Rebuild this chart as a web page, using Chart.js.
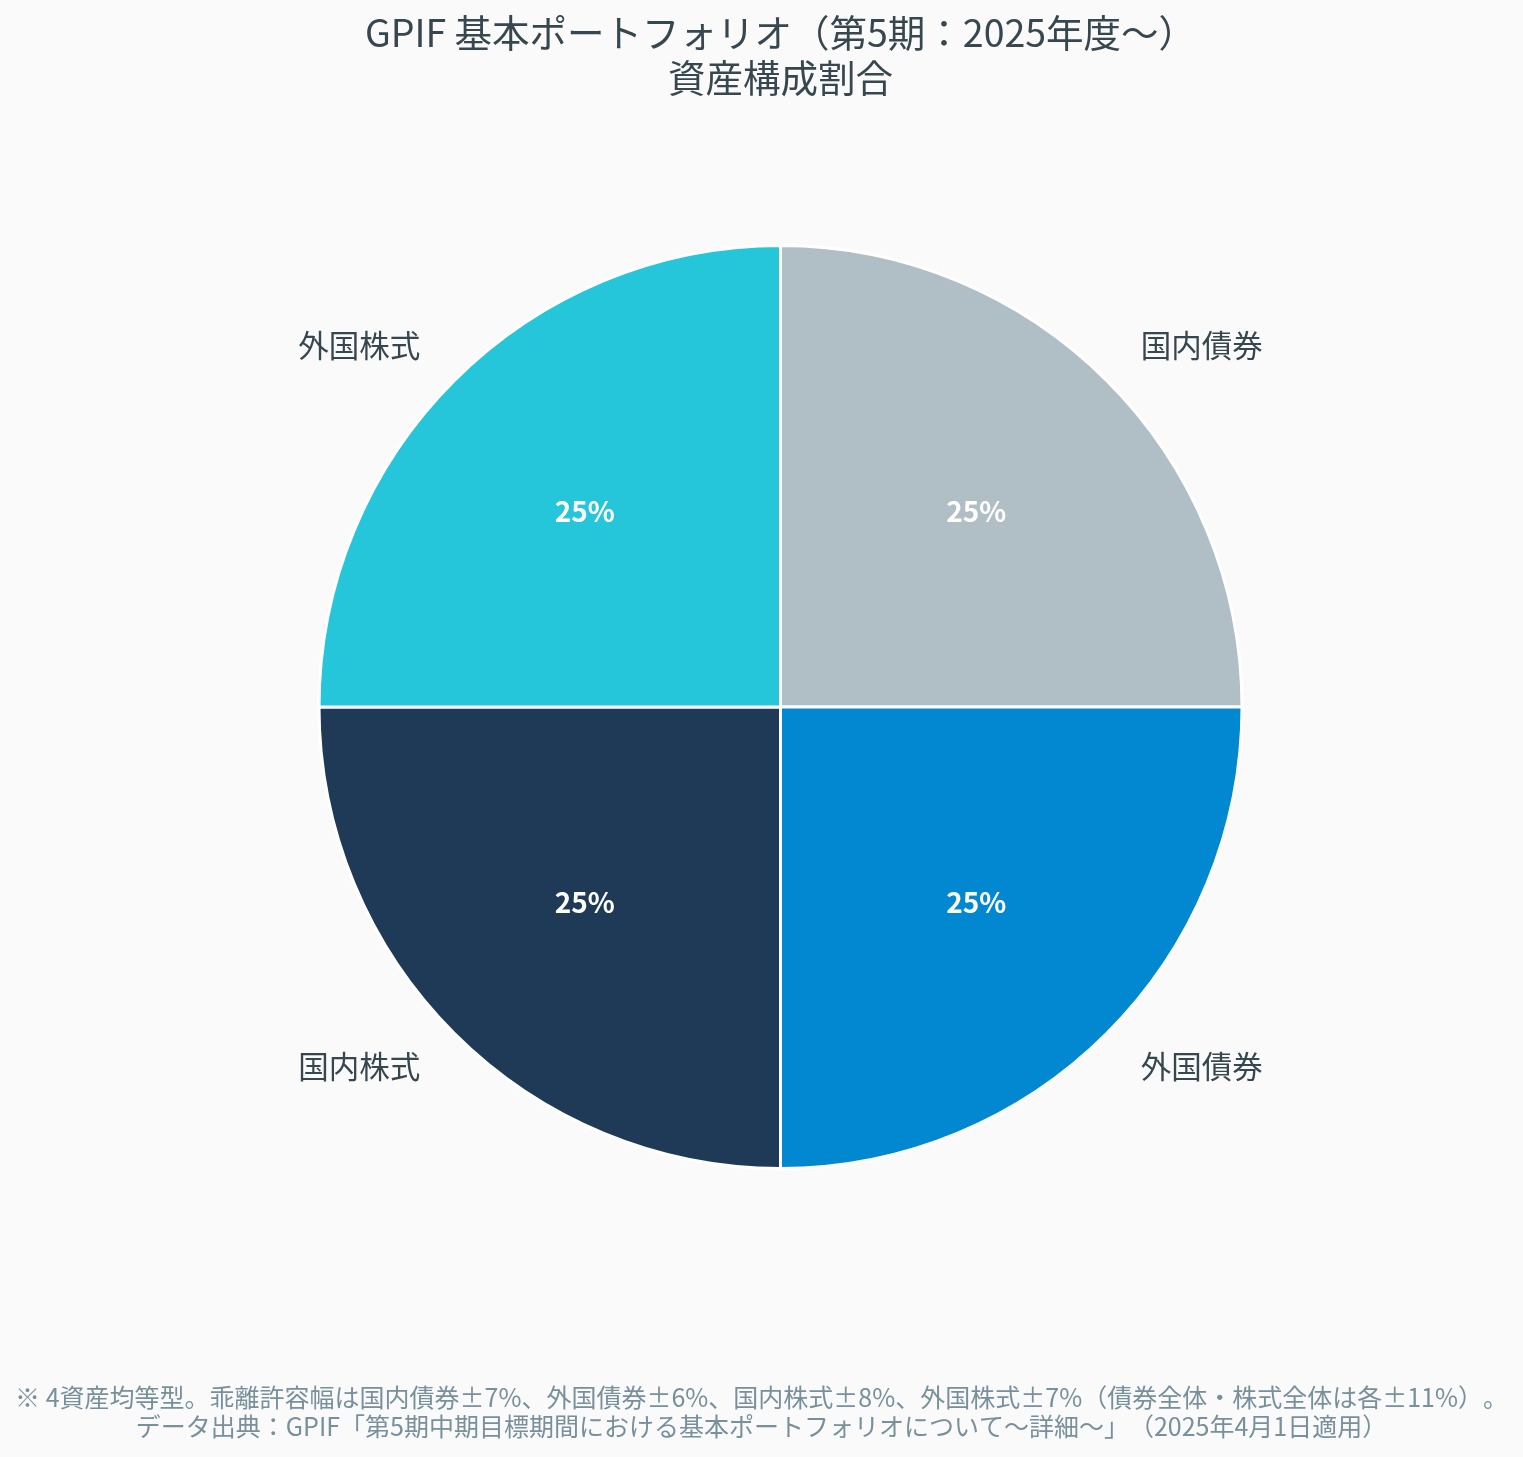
<!DOCTYPE html>
<html lang="ja">
<head>
<meta charset="utf-8">
<title>GPIF 基本ポートフォリオ</title>
<script src="https://cdn.jsdelivr.net/npm/chart.js@4.4.1/dist/chart.umd.min.js"></script>
<style>
    html, body { margin: 0; padding: 0; background: #FAFAFA; }
    #wrap { position: relative; width: 1523px; height: 1457px; }
    canvas { text-spacing-trim: space-all; }
</style>
</head>
<body>
<div id="wrap">
    <canvas id="pieChart" width="1523" height="1457"></canvas>
</div>
<script>
// 資産クラスと構成比
const assetLabels = ['国内債券', '外国債券', '国内株式', '外国株式'];
const assetShares = [25, 25, 25, 25];
const assetColors = ['#B0BEC5', '#0288D1', '#1E3A57', '#26C6DA'];

const titleLines = ['GPIF 基本ポートフォリオ（第5期：2025年度〜）', '資産構成割合'];
const footerLines = [
    '※ 4資産均等型。乖離許容幅は国内債券±7%、外国債券±6%、国内株式±8%、外国株式±7%（債券全体・株式全体は各±11%）。',
    'データ出典：GPIF「第5期中期目標期間における基本ポートフォリオについて〜詳細〜」（2025年4月1日適用）'
];

const FONT = '"Noto Sans CJK JP", "Noto Sans", sans-serif';

// スライス内の%表示と外側のラベル
const sliceLabels = {
    id: 'sliceLabels',
    afterDatasetsDraw(chart) {
        const ctx = chart.ctx;
        const meta = chart.getDatasetMeta(0);
        ctx.save();
        meta.data.forEach((arc, i) => {
            const mid = (arc.startAngle + arc.endAngle) / 2;
            const r = arc.outerRadius;
            const cos = Math.cos(mid), sin = Math.sin(mid);

            ctx.fillStyle = '#FFFFFF';
            ctx.font = 'bold 28px ' + FONT;
            ctx.textAlign = 'center';
            ctx.textBaseline = 'middle';
            ctx.fillText(assetShares[i] + '%', arc.x + cos * r * 0.6, arc.y + sin * r * 0.6);

            const d = r + 48;
            ctx.fillStyle = '#37474F';
            ctx.font = '30.5px ' + FONT;
            ctx.textAlign = cos >= 0 ? 'left' : 'right';
            ctx.fillText(assetLabels[i], arc.x + cos * d, arc.y + sin * d - 1);
        });
        ctx.restore();
    }
};

// 下部の注記
const footerNote = {
    id: 'footerNote',
    afterDraw(chart) {
        const ctx = chart.ctx;
        ctx.save();
        ctx.fillStyle = '#78909C';
        ctx.font = '25px ' + FONT;
        ctx.textAlign = 'center';
        ctx.textBaseline = 'middle';
        footerLines.forEach((line, i) => {
            ctx.fillText(line, chart.width / 2, 1397 + i * 29);
        });
        ctx.restore();
    }
};

new Chart(document.getElementById('pieChart'), {
    type: 'pie',
    data: {
        labels: assetLabels,
        datasets: [{
            data: assetShares,
            backgroundColor: assetColors,
            borderColor: '#FFFFFF',
            borderWidth: 3
        }]
    },
    options: {
        responsive: false,
        animation: false,
        layout: { padding: { left: 38, right: 0, top: 0, bottom: 287 } },
        plugins: {
            legend: { display: false },
            tooltip: { enabled: false },
            title: {
                display: true,
                text: titleLines,
                color: '#37474F',
                font: { family: FONT, size: 37.5, weight: 'normal', lineHeight: 1.2 },
                padding: { top: 10, bottom: 144 }
            }
        }
    },
    plugins: [sliceLabels, footerNote]
});
</script>
</body>
</html>
